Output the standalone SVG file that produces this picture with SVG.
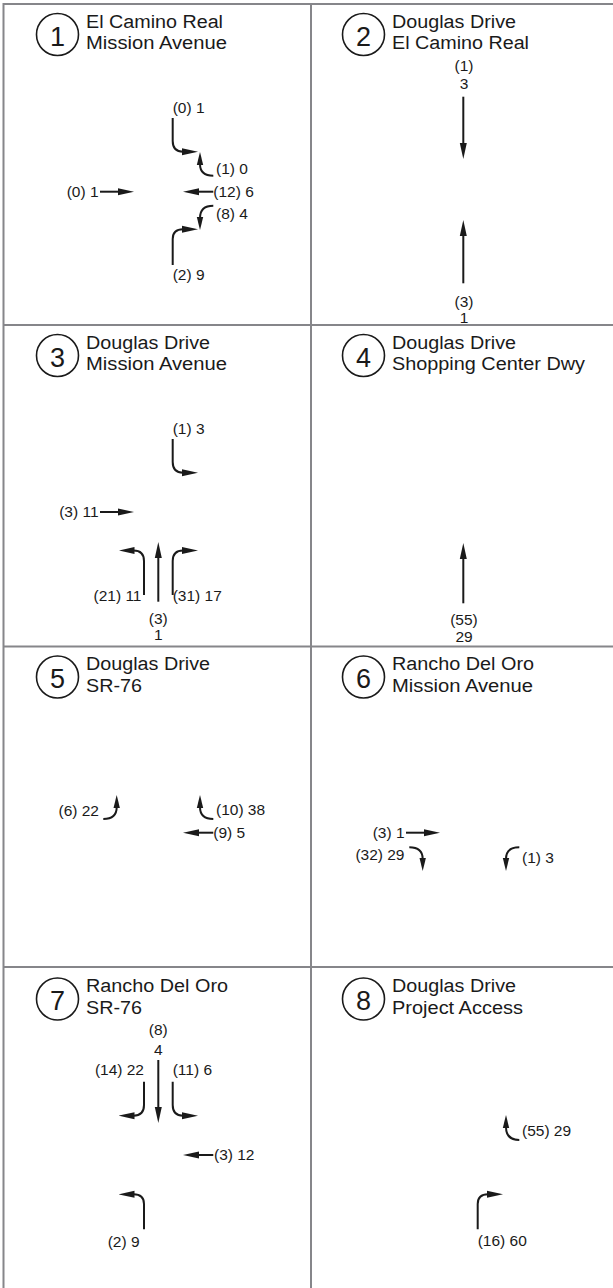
<svg xmlns="http://www.w3.org/2000/svg" width="613" height="1288" viewBox="0 0 613 1288">
<defs>
<style>
.grid{stroke:#86868a;stroke-width:2;fill:none}
.ring{fill:none;stroke:#1a1a1a;stroke-width:1.6}
text{font-family:"Liberation Sans",Arial,sans-serif;fill:#1a1a1a}
.num{font-size:27px;text-anchor:middle}
.ttl{font-size:18px}
.lbl{font-size:15.5px}
.c{text-anchor:middle}
.e{text-anchor:end}
.mv{fill:none;stroke:#1a1a1a;stroke-width:2;marker-end:url(#ah)}
.ms{fill:none;stroke:#1a1a1a;stroke-width:2;marker-end:url(#ahs)}
</style>
<marker id="ah" markerUnits="userSpaceOnUse" markerWidth="16" markerHeight="8" viewBox="0 0 16 8" refX="1" refY="4" orient="auto"><path d="M0,0.5 L16,4 L0,7.5 Z" fill="#1a1a1a"/></marker>
<marker id="ahs" markerUnits="userSpaceOnUse" markerWidth="13" markerHeight="8" viewBox="0 0 13 8" refX="1" refY="4" orient="auto"><path d="M0,0.8 L13,4 L0,7.2 Z" fill="#1a1a1a"/></marker>
</defs>
<rect width="613" height="1288" fill="#fff"/>
<g id="grid" class="grid">
<path d="M3.5,4 H613 M3.5,3 V1288 M311,3 V1288 M3.5,325 H613 M3.5,646.5 H613 M3.5,967 H613"/>
</g>

<g id="int1">
<circle class="ring" cx="57.5" cy="34.5" r="21"/>
<text class="num" x="57.5" y="45.5">1</text>
<text class="ttl" x="86" y="27.5" textLength="137" lengthAdjust="spacingAndGlyphs">El Camino Real</text>
<text class="ttl" x="86" y="49" textLength="141" lengthAdjust="spacingAndGlyphs">Mission Avenue</text>
<text class="lbl" x="172.7" y="112.5">(0) 1</text>
<path class="mv" d="M172.7,118 V141 Q172.7,151.7 183,151.7"/>
<path class="ms" d="M213.3,175.7 Q200,175.7 200,164"/>
<text class="lbl" x="216" y="174">(1) 0</text>
<text class="lbl e" x="98.5" y="196.5">(0) 1</text>
<path class="mv" d="M100,191.7 H119"/>
<path class="mv" d="M213.3,191.7 H198"/>
<text class="lbl" x="213.3" y="196.5">(12) 6</text>
<path class="ms" d="M213.3,205.7 Q200,205.7 200,218"/>
<text class="lbl" x="216" y="219">(8) 4</text>
<path class="mv" d="M172.7,265 V239 Q172.7,229.3 183,229.3"/>
<text class="lbl" x="172.7" y="280">(2) 9</text>
</g>

<g id="int2">
<circle class="ring" cx="363.5" cy="34.5" r="21"/>
<text class="num" x="363.5" y="45.5">2</text>
<text class="ttl" x="392" y="27.5" textLength="124" lengthAdjust="spacingAndGlyphs">Douglas Drive</text>
<text class="ttl" x="392" y="49" textLength="137" lengthAdjust="spacingAndGlyphs">El Camino Real</text>
<text class="lbl c" x="464" y="70.5">(1)</text>
<text class="lbl c" x="464" y="89">3</text>
<path class="mv" d="M463.3,96.7 V144"/>
<path class="mv" d="M463.3,283.3 V235"/>
<text class="lbl c" x="464" y="307">(3)</text>
<text class="lbl c" x="464" y="323">1</text>
</g>

<g id="int3">
<circle class="ring" cx="57.5" cy="355.5" r="21"/>
<text class="num" x="57.5" y="366.5">3</text>
<text class="ttl" x="86" y="348.5" textLength="124" lengthAdjust="spacingAndGlyphs">Douglas Drive</text>
<text class="ttl" x="86" y="370" textLength="141" lengthAdjust="spacingAndGlyphs">Mission Avenue</text>
<text class="lbl" x="172.7" y="433.5">(1) 3</text>
<path class="mv" d="M172.7,439 V462 Q172.7,472.7 183,472.7"/>
<text class="lbl e" x="98.5" y="517">(3) 11</text>
<path class="mv" d="M100,512 H119"/>
<path class="mv" d="M144,595 V561 Q144,550.5 133.5,550.5"/>
<path class="mv" d="M158.3,601.7 V557"/>
<path class="mv" d="M172.7,595 V561 Q172.7,550.5 183,550.5"/>
<text class="lbl e" x="141.5" y="601">(21) 11</text>
<text class="lbl" x="172.7" y="601">(31) 17</text>
<text class="lbl c" x="158.3" y="623.5">(3)</text>
<text class="lbl c" x="158.3" y="640">1</text>
</g>

<g id="int4">
<circle class="ring" cx="363.5" cy="355.5" r="21"/>
<text class="num" x="363.5" y="366.5">4</text>
<text class="ttl" x="392" y="348.5" textLength="124" lengthAdjust="spacingAndGlyphs">Douglas Drive</text>
<text class="ttl" x="392" y="370" textLength="193" lengthAdjust="spacingAndGlyphs">Shopping Center Dwy</text>
<path class="mv" d="M463.3,603.3 V558"/>
<text class="lbl c" x="464" y="625">(55)</text>
<text class="lbl c" x="464" y="642">29</text>
</g>

<g id="int5">
<circle class="ring" cx="57.5" cy="677" r="21"/>
<text class="num" x="57.5" y="688">5</text>
<text class="ttl" x="86" y="670" textLength="124" lengthAdjust="spacingAndGlyphs">Douglas Drive</text>
<text class="ttl" x="86" y="691.5" textLength="56" lengthAdjust="spacingAndGlyphs">SR-76</text>
<text class="lbl e" x="99" y="816">(6) 22</text>
<path class="ms" d="M103.3,819 Q116.7,819 116.7,807"/>
<path class="ms" d="M213.3,819 Q200,819 200,807"/>
<text class="lbl" x="216" y="815">(10) 38</text>
<path class="mv" d="M213.3,832.7 H198"/>
<text class="lbl" x="213.3" y="838">(9) 5</text>
</g>

<g id="int6">
<circle class="ring" cx="363.5" cy="677" r="21"/>
<text class="num" x="363.5" y="688">6</text>
<text class="ttl" x="392" y="670" textLength="142" lengthAdjust="spacingAndGlyphs">Rancho Del Oro</text>
<text class="ttl" x="392" y="691.5" textLength="141" lengthAdjust="spacingAndGlyphs">Mission Avenue</text>
<text class="lbl e" x="404.5" y="838">(3) 1</text>
<path class="mv" d="M406,832.7 H425"/>
<text class="lbl e" x="404.5" y="860">(32) 29</text>
<path class="ms" d="M409.3,847.3 Q422.7,847.3 422.7,859"/>
<path class="ms" d="M519.3,847.3 Q506,847.3 506,859"/>
<text class="lbl" x="522" y="862.5">(1) 3</text>
</g>

<g id="int7">
<circle class="ring" cx="57.5" cy="999" r="21"/>
<text class="num" x="57.5" y="1010">7</text>
<text class="ttl" x="86" y="992" textLength="142" lengthAdjust="spacingAndGlyphs">Rancho Del Oro</text>
<text class="ttl" x="86" y="1013.5" textLength="56" lengthAdjust="spacingAndGlyphs">SR-76</text>
<text class="lbl c" x="158.3" y="1035">(8)</text>
<text class="lbl c" x="158.3" y="1055">4</text>
<path class="mv" d="M158.3,1060 V1108"/>
<text class="lbl e" x="144" y="1075">(14) 22</text>
<text class="lbl" x="172.7" y="1075">(11) 6</text>
<path class="mv" d="M144,1081.7 V1105 Q144,1115.7 133.5,1115.7"/>
<path class="mv" d="M172.7,1081.7 V1105 Q172.7,1115.7 183,1115.7"/>
<path class="mv" d="M213.3,1155 H198"/>
<text class="lbl" x="214" y="1160">(3) 12</text>
<path class="mv" d="M144,1229.3 V1204 Q144,1194.3 133.5,1194.3"/>
<text class="lbl e" x="139.5" y="1247">(2) 9</text>
</g>

<g id="int8">
<circle class="ring" cx="363.5" cy="999" r="21"/>
<text class="num" x="363.5" y="1010">8</text>
<text class="ttl" x="392" y="992" textLength="124" lengthAdjust="spacingAndGlyphs">Douglas Drive</text>
<text class="ttl" x="392" y="1013.5" textLength="131" lengthAdjust="spacingAndGlyphs">Project Access</text>
<path class="ms" d="M519.3,1140 Q506,1140 506,1127"/>
<text class="lbl" x="522" y="1136">(55) 29</text>
<path class="mv" d="M477.7,1229.3 V1204 Q477.7,1194.3 488,1194.3"/>
<text class="lbl" x="477.7" y="1246">(16) 60</text>
</g>
</svg>
